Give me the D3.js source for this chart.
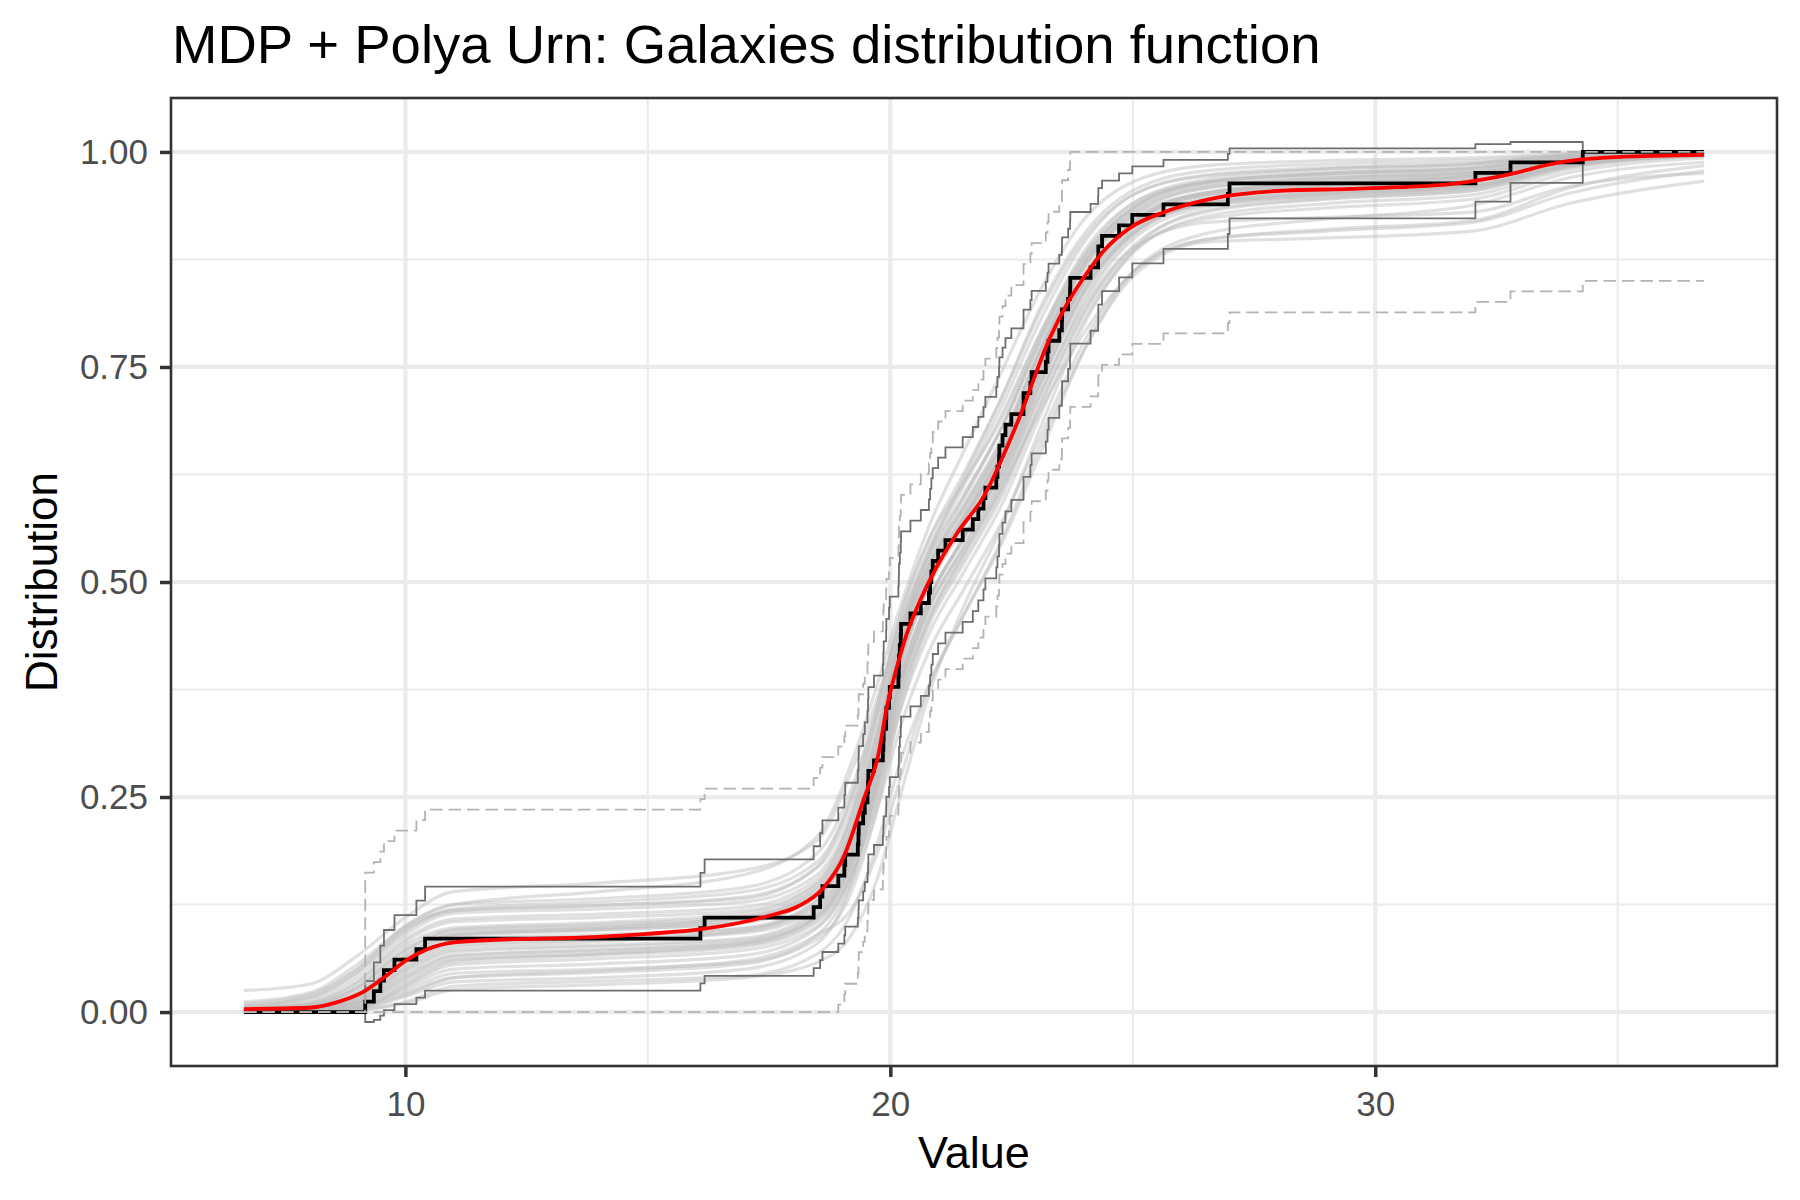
<!DOCTYPE html>
<html>
<head>
<meta charset="utf-8">
<script src="https://cdn.jsdelivr.net/npm/d3@7"></script>
<style>
  body { margin: 0; background: #ffffff; }
  svg { display: block; font-family: "Liberation Sans", Arial, sans-serif; }
</style>
</head>
<body>
<svg></svg>
<script>
// galaxy velocities (km/s / 1000)
var galaxies = [9.172, 9.350, 9.483, 9.558, 9.775, 10.227, 10.406, 16.084, 16.170, 18.419,
    18.552, 18.600, 18.927, 19.052, 19.070, 19.330, 19.343, 19.349, 19.440, 19.473,
    19.529, 19.541, 19.547, 19.663, 19.846, 19.856, 19.863, 19.914, 19.918, 19.973,
    19.989, 20.166, 20.175, 20.179, 20.196, 20.215, 20.221, 20.415, 20.629, 20.795,
    20.821, 20.846, 20.875, 20.986, 21.137, 21.492, 21.701, 21.814, 21.921, 21.960,
    22.185, 22.209, 22.242, 22.249, 22.314, 22.374, 22.495, 22.746, 22.747, 22.888,
    22.914, 23.206, 23.241, 23.263, 23.484, 23.538, 23.542, 23.666, 23.706, 23.711,
    24.129, 24.285, 24.289, 24.366, 24.717, 24.990, 25.633, 26.960, 26.995, 32.065,
    32.789, 34.279];

var gridRange = [6.672, 36.779];
var dkwEps = 0.15;      // dashed band half width
var zValue = 1.96;      // solid band

// posterior mean (red)
var meanX = [6.67, 8, 8.6, 9.15, 9.6, 10, 10.45, 11, 11.85, 13.6, 15, 16.1, 17.5, 18.1, 18.6,
    19.05, 19.45, 19.76, 19.93, 20.14, 20.34, 20.62, 20.96, 21.38, 21.92, 22.61, 23.3, 23.64,
    23.99, 24.4, 24.95, 25.64, 26.74, 28.11, 29.5, 30.5, 31.55, 32.23, 32.92, 33.61, 34.23,
    34.98, 36.78];
var meanY = [0.0035, 0.005, 0.0116, 0.024, 0.042, 0.0595, 0.073, 0.081, 0.084, 0.0866, 0.091,
    0.0963, 0.112, 0.123, 0.143, 0.182, 0.247, 0.301, 0.355, 0.402, 0.44, 0.479, 0.518, 0.557,
    0.599, 0.684, 0.785, 0.823, 0.854, 0.885, 0.912, 0.930, 0.947, 0.955, 0.957, 0.959, 0.9625,
    0.968, 0.976, 0.9857, 0.991, 0.994, 0.9965];

// posterior draws (light grey), read at these x values
var drawX = [6.67, 8, 9, 10, 11, 14, 17, 18.5, 19.2, 19.7, 20.2, 20.8, 21.5, 22.3, 23.1, 24,
    25, 26.5, 29, 32, 34, 36.78];
var draws = [
    [0.000, 0.001, 0.004, 0.030, 0.055, 0.062, 0.072, 0.100, 0.160, 0.250, 0.370, 0.470, 0.540, 0.620, 0.730, 0.840, 0.905, 0.940, 0.953, 0.962, 0.988, 0.998],
    [0.002, 0.006, 0.025, 0.070, 0.095, 0.100, 0.110, 0.140, 0.210, 0.300, 0.420, 0.510, 0.580, 0.660, 0.770, 0.870, 0.925, 0.952, 0.962, 0.972, 0.992, 0.999],
    [0.010, 0.020, 0.050, 0.100, 0.125, 0.132, 0.145, 0.185, 0.260, 0.350, 0.450, 0.540, 0.615, 0.705, 0.805, 0.895, 0.950, 0.972, 0.980, 0.986, 0.996, 1.000],
    [0.000, 0.000, 0.002, 0.012, 0.030, 0.036, 0.042, 0.068, 0.115, 0.190, 0.290, 0.380, 0.460, 0.545, 0.650, 0.770, 0.860, 0.905, 0.922, 0.938, 0.970, 0.988],
    [0.003, 0.008, 0.030, 0.078, 0.098, 0.104, 0.115, 0.150, 0.230, 0.340, 0.460, 0.550, 0.615, 0.690, 0.790, 0.885, 0.940, 0.965, 0.974, 0.981, 0.994, 0.999],
    [0.000, 0.002, 0.010, 0.040, 0.065, 0.072, 0.080, 0.110, 0.170, 0.260, 0.370, 0.460, 0.530, 0.610, 0.715, 0.825, 0.898, 0.936, 0.950, 0.960, 0.985, 0.997],
    [0.025, 0.032, 0.065, 0.110, 0.140, 0.150, 0.165, 0.200, 0.280, 0.360, 0.450, 0.535, 0.610, 0.695, 0.790, 0.880, 0.935, 0.965, 0.976, 0.983, 0.995, 0.999],
    [0.000, 0.001, 0.006, 0.025, 0.045, 0.050, 0.058, 0.085, 0.140, 0.230, 0.350, 0.450, 0.520, 0.600, 0.705, 0.815, 0.890, 0.930, 0.945, 0.955, 0.982, 0.996],
    [0.001, 0.004, 0.018, 0.060, 0.085, 0.090, 0.097, 0.125, 0.190, 0.290, 0.410, 0.500, 0.570, 0.650, 0.755, 0.855, 0.915, 0.948, 0.960, 0.967, 0.988, 0.998],
    [0.005, 0.012, 0.040, 0.090, 0.115, 0.120, 0.128, 0.160, 0.230, 0.320, 0.430, 0.520, 0.595, 0.680, 0.785, 0.880, 0.940, 0.968, 0.980, 0.986, 0.996, 1.000],
    [0.000, 0.001, 0.003, 0.018, 0.035, 0.040, 0.050, 0.080, 0.150, 0.260, 0.390, 0.480, 0.550, 0.630, 0.740, 0.850, 0.918, 0.953, 0.964, 0.972, 0.990, 0.998],
    [0.001, 0.003, 0.015, 0.050, 0.075, 0.082, 0.095, 0.130, 0.200, 0.280, 0.380, 0.470, 0.535, 0.610, 0.700, 0.790, 0.860, 0.898, 0.910, 0.920, 0.958, 0.984],
    [0.006, 0.015, 0.045, 0.095, 0.120, 0.128, 0.140, 0.175, 0.250, 0.340, 0.440, 0.520, 0.585, 0.660, 0.755, 0.850, 0.918, 0.950, 0.960, 0.968, 0.990, 0.998],
    [0.000, 0.002, 0.012, 0.045, 0.070, 0.076, 0.084, 0.115, 0.180, 0.280, 0.400, 0.500, 0.575, 0.660, 0.770, 0.870, 0.932, 0.962, 0.972, 0.978, 0.993, 0.999],
    [0.000, 0.001, 0.005, 0.022, 0.040, 0.046, 0.056, 0.090, 0.150, 0.230, 0.330, 0.420, 0.490, 0.570, 0.670, 0.780, 0.860, 0.898, 0.908, 0.918, 0.952, 0.978],
    [0.004, 0.010, 0.035, 0.085, 0.108, 0.114, 0.122, 0.155, 0.225, 0.320, 0.440, 0.535, 0.620, 0.715, 0.820, 0.905, 0.955, 0.978, 0.986, 0.990, 0.997, 1.000],
    [0.012, 0.022, 0.055, 0.100, 0.125, 0.140, 0.160, 0.205, 0.290, 0.375, 0.470, 0.565, 0.650, 0.745, 0.840, 0.922, 0.965, 0.984, 0.990, 0.993, 0.998, 1.000],
    [0.000, 0.001, 0.007, 0.032, 0.058, 0.066, 0.076, 0.105, 0.160, 0.240, 0.350, 0.440, 0.510, 0.590, 0.695, 0.805, 0.882, 0.925, 0.940, 0.950, 0.980, 0.995],
    [0.002, 0.005, 0.020, 0.062, 0.088, 0.095, 0.105, 0.135, 0.200, 0.300, 0.420, 0.510, 0.575, 0.650, 0.750, 0.848, 0.910, 0.945, 0.956, 0.962, 0.986, 0.997],
    [0.000, 0.000, 0.002, 0.010, 0.026, 0.032, 0.040, 0.058, 0.090, 0.150, 0.250, 0.370, 0.470, 0.565, 0.680, 0.800, 0.885, 0.932, 0.946, 0.955, 0.983, 0.996],
    [0.008, 0.018, 0.050, 0.098, 0.118, 0.124, 0.132, 0.170, 0.250, 0.350, 0.460, 0.550, 0.625, 0.715, 0.815, 0.900, 0.950, 0.973, 0.982, 0.987, 0.996, 1.000],
    [0.001, 0.003, 0.012, 0.048, 0.072, 0.078, 0.086, 0.118, 0.180, 0.270, 0.380, 0.470, 0.540, 0.620, 0.720, 0.820, 0.888, 0.918, 0.924, 0.930, 0.960, 0.975],
    [0.003, 0.007, 0.028, 0.072, 0.092, 0.098, 0.110, 0.145, 0.215, 0.310, 0.430, 0.530, 0.600, 0.680, 0.780, 0.875, 0.935, 0.964, 0.975, 0.981, 0.994, 0.999],
    [0.000, 0.001, 0.004, 0.020, 0.040, 0.048, 0.060, 0.090, 0.120, 0.180, 0.270, 0.380, 0.460, 0.550, 0.660, 0.770, 0.855, 0.895, 0.900, 0.908, 0.940, 0.966],
    [0.001, 0.004, 0.020, 0.065, 0.090, 0.097, 0.108, 0.140, 0.205, 0.295, 0.415, 0.505, 0.570, 0.648, 0.752, 0.852, 0.915, 0.950, 0.962, 0.970, 0.990, 0.998],
    [0.000, 0.002, 0.009, 0.038, 0.062, 0.068, 0.078, 0.108, 0.168, 0.262, 0.380, 0.478, 0.552, 0.635, 0.742, 0.848, 0.915, 0.952, 0.964, 0.972, 0.990, 0.998],
    [0.004, 0.010, 0.034, 0.082, 0.105, 0.110, 0.118, 0.150, 0.220, 0.315, 0.430, 0.520, 0.588, 0.668, 0.772, 0.868, 0.930, 0.960, 0.970, 0.977, 0.992, 0.999],
    [0.000, 0.001, 0.008, 0.035, 0.060, 0.068, 0.080, 0.112, 0.172, 0.255, 0.362, 0.455, 0.525, 0.605, 0.708, 0.812, 0.885, 0.922, 0.935, 0.945, 0.976, 0.993],
    [0.002, 0.006, 0.022, 0.066, 0.090, 0.096, 0.104, 0.135, 0.198, 0.288, 0.405, 0.498, 0.568, 0.650, 0.760, 0.862, 0.925, 0.958, 0.968, 0.975, 0.991, 0.999],
    [0.001, 0.004, 0.016, 0.055, 0.080, 0.086, 0.094, 0.124, 0.188, 0.282, 0.402, 0.495, 0.562, 0.640, 0.742, 0.842, 0.908, 0.942, 0.953, 0.960, 0.985, 0.997],
    [0.000, 0.001, 0.005, 0.028, 0.050, 0.056, 0.066, 0.098, 0.158, 0.245, 0.360, 0.458, 0.532, 0.615, 0.722, 0.830, 0.902, 0.940, 0.952, 0.960, 0.985, 0.997],
    [0.007, 0.016, 0.046, 0.094, 0.118, 0.124, 0.134, 0.168, 0.240, 0.332, 0.440, 0.528, 0.598, 0.680, 0.782, 0.875, 0.935, 0.965, 0.975, 0.981, 0.994, 0.999],
    [0.002, 0.005, 0.018, 0.058, 0.082, 0.088, 0.098, 0.130, 0.195, 0.290, 0.410, 0.505, 0.572, 0.652, 0.755, 0.855, 0.920, 0.952, 0.966, 0.974, 0.991, 0.998],
    [0.000, 0.002, 0.011, 0.042, 0.066, 0.072, 0.082, 0.112, 0.175, 0.268, 0.385, 0.480, 0.548, 0.628, 0.732, 0.836, 0.905, 0.938, 0.948, 0.958, 0.984, 0.996],
    [0.003, 0.008, 0.028, 0.074, 0.096, 0.102, 0.112, 0.145, 0.212, 0.305, 0.425, 0.515, 0.585, 0.665, 0.768, 0.866, 0.928, 0.958, 0.969, 0.976, 0.992, 0.999],
    [0.001, 0.003, 0.014, 0.052, 0.078, 0.084, 0.092, 0.120, 0.182, 0.272, 0.388, 0.482, 0.550, 0.628, 0.732, 0.838, 0.905, 0.940, 0.950, 0.958, 0.984, 0.996]
];

var xBreaks = [10, 20, 30];
var xMinor = [15, 25, 35];
var yBreaks = [0, 0.25, 0.5, 0.75, 1];
var yMinor = [0.125, 0.375, 0.625, 0.875];

var screen = {width: 1800, height: 1200};
var panel = {left: 171, right: 1777, top: 98, bottom: 1066};

// empirical cdf as step points
var n = galaxies.length;
var ecdf = [{x: gridRange[0], y: 0}];
galaxies.forEach(function(v, i)
{
    ecdf.push({x: v, y: (i + 1) / n});
});
ecdf.push({x: gridRange[1], y: 1});

var bandUpper = ecdf.map(function(d){ return {x: d.x, y: d.y + zValue * Math.sqrt(d.y * (1 - d.y) / n)}; });
var bandLower = ecdf.map(function(d){ return {x: d.x, y: d.y - zValue * Math.sqrt(d.y * (1 - d.y) / n)}; });
// the dashed bands start at zero left of the first observation
var dkwUpper = ecdf.map(function(d){ return {x: d.x, y: d.y === 0 ? 0 : Math.min(1, d.y + dkwEps)}; });
var dkwLower = ecdf.map(function(d){ return {x: d.x, y: Math.max(0, d.y - dkwEps)}; });

var svg = d3.select("svg")
    .attr("width", screen.width)
    .attr("height", screen.height);

// scales with 5% expansion like ggplot
var xPad = (gridRange[1] - gridRange[0]) * 0.05;
var xScale = d3.scaleLinear()
    .domain([gridRange[0] - xPad, gridRange[1] + xPad])
    .range([panel.left, panel.right]);

var yLo = d3.min(bandLower, function(d){ return d.y; });
var yHi = d3.max(bandUpper, function(d){ return d.y; });
var yPad = (yHi - yLo) * 0.05;
var yScale = d3.scaleLinear()
    .domain([yLo - yPad, yHi + yPad])
    .range([panel.bottom, panel.top]);

// grid
var grid = svg.append("g");
grid.selectAll(".minx").data(xMinor).enter().append("line")
    .attr("x1", function(d){ return xScale(d); }).attr("x2", function(d){ return xScale(d); })
    .attr("y1", panel.top).attr("y2", panel.bottom)
    .attr("stroke", "#ebebeb").attr("stroke-width", 2.1);
grid.selectAll(".miny").data(yMinor).enter().append("line")
    .attr("y1", function(d){ return yScale(d); }).attr("y2", function(d){ return yScale(d); })
    .attr("x1", panel.left).attr("x2", panel.right)
    .attr("stroke", "#ebebeb").attr("stroke-width", 2.1);
grid.selectAll(".majx").data(xBreaks).enter().append("line")
    .attr("x1", function(d){ return xScale(d); }).attr("x2", function(d){ return xScale(d); })
    .attr("y1", panel.top).attr("y2", panel.bottom)
    .attr("stroke", "#ebebeb").attr("stroke-width", 4.2);
grid.selectAll(".majy").data(yBreaks).enter().append("line")
    .attr("y1", function(d){ return yScale(d); }).attr("y2", function(d){ return yScale(d); })
    .attr("x1", panel.left).attr("x2", panel.right)
    .attr("stroke", "#ebebeb").attr("stroke-width", 4.2);

svg.append("clipPath").attr("id", "clip")
    .append("rect")
    .attr("x", panel.left).attr("y", panel.top)
    .attr("width", panel.right - panel.left).attr("height", panel.bottom - panel.top);

var plot = svg.append("g").attr("clip-path", "url(#clip)");

var smooth = d3.line()
    .x(function(d){ return xScale(d[0]); })
    .y(function(d){ return yScale(d[1]); })
    .curve(d3.curveMonotoneX);

var step = d3.line()
    .x(function(d){ return xScale(d.x); })
    .y(function(d){ return yScale(d.y); })
    .curve(d3.curveStepAfter);

plot.selectAll(".draw")
    .data(draws)
    .enter()
    .append("path")
    .attr("d", function(ys){ return smooth(ys.map(function(y, i){ return [drawX[i], y]; })); })
    .attr("fill", "none")
    .attr("stroke", "#bebebe")
    .attr("stroke-opacity", 0.48)
    .attr("stroke-width", 3.2);

[bandUpper, bandLower].forEach(function(b)
{
    plot.append("path")
        .attr("d", step(b))
        .attr("fill", "none")
        .attr("stroke", "#6e6e6e")
        .attr("stroke-width", 1.8);
});

plot.append("path")
    .attr("d", step(ecdf))
    .attr("fill", "none")
    .attr("stroke", "#000000")
    .attr("stroke-width", 3.8);

[dkwUpper, dkwLower].forEach(function(b)
{
    plot.append("path")
        .attr("d", step(b))
        .attr("fill", "none")
        .attr("stroke", "#b3b3b3")
        .attr("stroke-width", 1.8)
        .attr("stroke-dasharray", "12.5,6");
});

plot.append("path")
    .attr("d", smooth(meanX.map(function(x, i){ return [x, meanY[i]]; })))
    .attr("fill", "none")
    .attr("stroke", "#ff0000")
    .attr("stroke-width", 3.8);

// panel border
svg.append("rect")
    .attr("x", panel.left).attr("y", panel.top)
    .attr("width", panel.right - panel.left).attr("height", panel.bottom - panel.top)
    .attr("fill", "none")
    .attr("stroke", "#333333")
    .attr("stroke-width", 2.6);

// axes
var xAxis = svg.append("g")
    .attr("transform", "translate(0," + panel.bottom + ")")
    .call(d3.axisBottom(xScale).tickValues(xBreaks).tickSize(11).tickPadding(14).tickFormat(d3.format("d")));
var yAxis = svg.append("g")
    .attr("transform", "translate(" + panel.left + ",0)")
    .call(d3.axisLeft(yScale).tickValues(yBreaks).tickSize(11).tickPadding(12).tickFormat(d3.format(".2f")));

[xAxis, yAxis].forEach(function(a)
{
    a.select(".domain").remove();
    a.selectAll(".tick line").attr("stroke", "#333333").attr("stroke-width", 3.5);
    a.selectAll(".tick text")
        .attr("fill", "#4d4d4d")
        .style("font-size", "35px")
        .style("font-family", "'Liberation Sans', Arial, sans-serif");
});

// titles
svg.append("text")
    .attr("x", 172)
    .attr("y", 63)
    .style("font-size", "54.5px")
    .attr("fill", "#000000")
    .text("MDP + Polya Urn: Galaxies distribution function");

svg.append("text")
    .attr("x", (panel.left + panel.right) / 2)
    .attr("y", 1168)
    .attr("text-anchor", "middle")
    .style("font-size", "45px")
    .attr("fill", "#000000")
    .text("Value");

svg.append("text")
    .attr("transform", "translate(57," + (panel.top + panel.bottom) / 2 + ") rotate(-90)")
    .attr("text-anchor", "middle")
    .style("font-size", "44px")
    .attr("fill", "#000000")
    .text("Distribution");
</script>
</body>
</html>
